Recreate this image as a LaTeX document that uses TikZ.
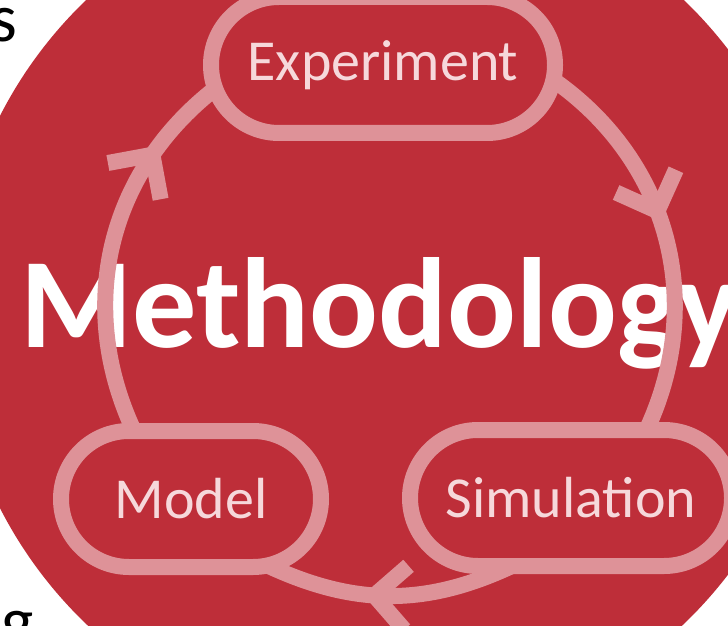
\documentclass[tikz,border=0pt]{standalone}
\usepackage{fontspec}
\setmainfont{Carlito}
\usetikzlibrary{shapes.misc,decorations.markings}

\definecolor{slidered}{RGB}{190,46,57}
\definecolor{ringpink}{RGB}{222,146,152}
\definecolor{labelpink}{RGB}{246,216,219}

\pgfdeclarelayer{background}
\pgfsetlayers{background,main}

\tikzset{
  ringline/.style={draw=ringpink, line width=0.32cm},
  stage/.style={rounded rectangle, ringline, fill=slidered, text=labelpink,
    minimum height=2.72cm, inner sep=0pt, outer sep=0pt,
    font=\fontsize{33}{40}\selectfont},
  % open barb in the middle of an arc
  barbat/.style={postaction={decorate}, decoration={markings,
    mark=at position #1 with {\draw[ringline] (0,0) -- (-0.64,0.64) (0,0) -- (-0.64,-0.64);}}}
}

\begin{document}
\begin{tikzpicture}
  \useasboundingbox (0,0) rectangle (14.56,12.5);
  \begin{pgfonlayer}{background}
    \fill[slidered] (7.70,6.26) circle (8.64);
    \node[anchor=base west, inner sep=0pt, text=white,
      font=\bfseries\fontsize{73}{88}\selectfont] (title) at (0.40,5.54) {Methodology};
  \end{pgfonlayer}
  \node[anchor=base east, inner sep=0pt, font=\fontsize{39}{47}\selectfont] (s) at (0.36,11.66) {s};
  \node[anchor=base east, inner sep=0pt, font=\fontsize{39}{47}\selectfont] (g) at (0.68,-0.38) {g};

  \node[stage, minimum width=6.88cm] (experiment) at (7.66,11.2) {Experiment};
  \node[stage, minimum width=6.44cm] (simulation) at (11.42,2.54) {Simulation};
  \node[stage, minimum width=5.2cm] (model) at (3.82,2.52) {Model};

  \begin{pgfonlayer}{background}
    \draw[ringline, barbat=0.76] (model.130) to[out=115, in=218] (experiment.188);
    \draw[ringline, barbat=0.43] (experiment.355) to[out=-35, in=65] (simulation.42);
    \draw[ringline, barbat=0.56] (simulation.229) to[out=205, in=335] (model.319);
  \end{pgfonlayer}
\end{tikzpicture}
\end{document}
